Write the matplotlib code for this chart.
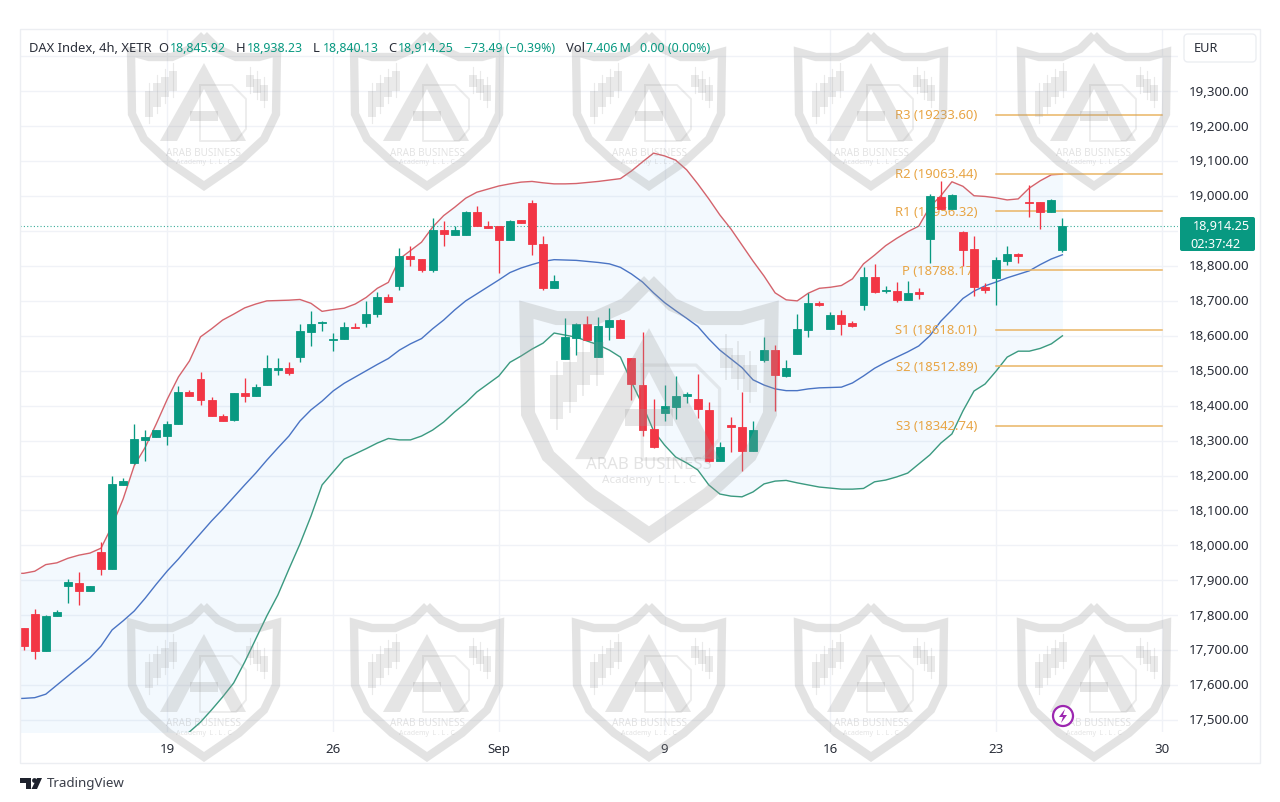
import numpy as np
import matplotlib
matplotlib.use("Agg")
import matplotlib.pyplot as plt
from matplotlib.patches import Polygon, Rectangle, FancyBboxPatch, Circle
from matplotlib.transforms import ScaledTranslation

plt.rcParams['font.family'] = ['Noto Sans', 'DejaVu Sans']

#4h candles
opens = [17763,17804,17698,17797,17883,17893,17868,17980,17932,18173,
         18236,18302,18309,18312,18347,18440,18476,18417,18371,18358,
         18436,18429,18459,18503,18507,18538,18610,18637,18589,18590,
         18624,18636,18662,18712,18743,18829,18821,18789,18902,18890,
         18890,18955,18914,18914,18874,18931,18981,18863,18738,18534,
         18595,18633,18538,18625,18645,18537,18460,18332,18380,18397,
         18427,18420,18388,18242,18345,18340,18271,18532,18560,18486,
         18547,18618,18694,18620,18660,18636,18687,18768,18728,18728,
         18702,18725,18877,18997,18964,18896,18848,18739,18766,18815,
         18834,18984,18984,18954,18845.92]
highs = [17763,17818,17802,17816,17904,17923,17885,18010,18200,18192,
         18348,18331,18331,18357,18455,18446,18495,18424,18376,18436,
         18478,18462,18545,18536,18524,18634,18670,18642,18608,18640,
         18636,18700,18725,18719,18851,18858,18821,18937,18928,18914,
         18957,18971,18930,18914,18931,18931,18990,18885,18774,18650,
         18637,18656,18653,18679,18648,18537,18610,18419,18460,18486,
         18440,18491,18410,18297,18368,18438,18355,18596,18575,18530,
         18662,18723,18700,18667,18674,18643,18798,18806,18742,18753,
         18758,18736,19006,19044,19006,18899,18887,18750,18826,18858,
         18836,19032,18984,18992,18938.23]
lows = [17700,17675,17698,17797,17835,17830,17868,17915,17932,18173,
        18233,18242,18309,18287,18347,18429,18403,18371,18355,18357,
        18410,18429,18459,18488,18489,18524,18572,18615,18556,18590,
        18622,18626,18654,18697,18732,18801,18784,18782,18858,18890,
        18890,18914,18908,18780,18874,18923,18831,18732,18738,18534,
        18545,18588,18538,18587,18595,18417,18314,18280,18355,18362,
        18408,18364,18240,18242,18266,18212,18271,18526,18386,18482,
        18547,18598,18684,18620,18603,18624,18675,18723,18723,18698,
        18702,18705,18808,18964,18964,18801,18713,18723,18688,18803,
        18808,18941,18906,18954,18840.13]
closes = [17713,17698,17799,17808,17894,17868,17883,17932,18176,18184,
          18305,18311,18331,18347,18440,18429,18417,18371,18355,18435,
          18427,18453,18507,18507,18493,18614,18635,18640,18591,18624,
          18622,18662,18712,18697,18829,18821,18789,18902,18891,18904,
          18955,18915,18909,18874,18930,18923,18863,18738,18758,18598,
          18633,18588,18627,18645,18595,18461,18330,18282,18398,18428,
          18433,18390,18242,18281,18339,18271,18330,18560,18487,18509,
          18620,18694,18689,18660,18633,18629,18768,18725,18732,18702,
          18722,18721,18999,18964,19002,18846,18739,18731,18817,18834,
          18828,18981,18954,18989,18914.25]

#bollinger bands, first value sits just left of the first candle
bb_upper = [17920,17920,17926,17945,17950,17963,17972,17978,17992,18056,18133,
            18228,18281,18348,18419,18482,18528,18597,18620,18645,18662,
            18680,18691,18700,18701,18702,18704,18693,18670,18675,18679,
            18691,18710,18736,18753,18820,18844,18868,18911,18944,18968,
            18994,19011,19020,19029,19035,19040,19042,19038,19035,19035,
            19036,19039,19042,19046,19050,19072,19098,19123,19115,19103,
            19075,19035,18992,18946,18906,18860,18814,18771,18723,18703,
            18700,18722,18736,18739,18744,18763,18806,18831,18858,18879,
            18898,18914,18969,19001,19041,19028,19001,18999,18995,18989,
            18992,19023,19044,19061,19063]
bb_mid = [17561,17562,17564,17574,17600,17626,17652,17678,17712,17758,17784,
          17812,17849,17889,17927,17961,17998,18034,18070,18103,18138,
          18173,18207,18244,18279,18313,18356,18388,18413,18442,18464,
          18482,18500,18518,18535,18559,18577,18592,18620,18645,18674,
          18700,18720,18740,18760,18781,18794,18804,18813,18818,18817,
          18816,18813,18810,18806,18796,18777,18754,18723,18695,18672,
          18650,18627,18591,18559,18534,18509,18474,18459,18448,18443,
          18443,18448,18451,18452,18453,18465,18485,18507,18524,18539,
          18554,18571,18600,18642,18674,18707,18728,18743,18754,18766,
          18776,18786,18804,18820,18832]
bb_lower = [17202,17204,17203,17204,17251,17289,17331,17377,17431,17462,17434,
            17396,17418,17431,17435,17440,17466,17494,17529,17566,17606,
            17666,17732,17798,17858,17932,18004,18084,18173,18210,18247,
            18262,18277,18293,18306,18302,18302,18313,18330,18353,18382,
            18408,18439,18462,18485,18524,18542,18562,18579,18608,18602,
            18596,18585,18574,18559,18539,18468,18402,18328,18287,18253,
            18236,18216,18173,18147,18141,18139,18153,18176,18184,18186,
            18179,18173,18167,18164,18161,18161,18163,18182,18187,18196,
            18207,18233,18259,18293,18319,18385,18442,18462,18499,18539,
            18556,18556,18564,18577,18600]

pivot_names = ["R3", "R2", "R1", "P", "S1", "S2", "S3"]
pivot_values = [19233.60, 19063.44, 18956.32, 18788.17, 18618.01, 18512.89, 18342.74]
last_price = 18914.25

price_ticks = list(range(17500, 19500, 100))
hidden_ticks = [18900, 19400]  #covered by the price badge and the EUR box
day_ticks = [13, 28, 43, 58, 73, 88, 103]
day_labels = ["19", "26", "Sep", "9", "16", "23", "30"]

GREEN = "#089981"
RED = "#f23645"
GRID = "#f0f2f7"
TEXT = "#2a2e39"
ORANGE = "#e8a545"
WM = "#9a9a9a"

W, H = 1280, 803
fig = plt.figure(figsize=(W/100, H/100), dpi=100, facecolor="white")

#chart pane, pixel box 20..1178 / 30..733
ax = fig.add_axes([20/W, 1-733/H, (1178-20)/W, (733-30)/H])
ax.set_xlim(-0.335, 104.46)
ax.set_ylim(17465.7, 19478.4)
for s in ax.spines.values():
    s.set_visible(False)

ax.set_yticks(price_ticks)
ax.set_yticklabels(["" if p in hidden_ticks else f"{p:,.2f}" for p in price_ticks], fontsize=9.6, color=TEXT)
ax.yaxis.tick_right()
ax.tick_params(axis="y", length=0, pad=7.5)
#labels sit a little above their grid lines
for lab in ax.get_yticklabels():
    lab.set_transform(lab.get_transform()+ScaledTranslation(0, 1.7/100, fig.dpi_scale_trans))
ax.set_xticks(day_ticks)
ax.set_xticklabels(day_labels, fontsize=9.6, color=TEXT)
ax.get_xticklabels()[2].set_fontweight("bold")
ax.tick_params(axis="x", length=0, pad=7.5)
ax.grid(True, color=GRID, lw=1)
ax.set_axisbelow(True)

#bands
bb_x = np.arange(-1, 95)
ax.fill_between(bb_x, bb_lower, bb_upper, color="#2196f3", alpha=0.05, lw=0, zorder=1)
ax.plot(bb_x, bb_upper, color="#d4636c", lw=1.0, zorder=2)
ax.plot(bb_x, bb_mid, color="#4a74c4", lw=1.0, zorder=2)
ax.plot(bb_x, bb_lower, color="#3b9a80", lw=1.0, zorder=2)

#pivots
for name, val in zip(pivot_names, pivot_values):
    ax.plot([88, 103], [val, val], color="#eab565", lw=1.1, zorder=2)
    ax.text(86.3, val, f"{name} ({val:.2f})", color=ORANGE, fontsize=9.4, ha="right", va="center", zorder=2)

#last price line
ax.axhline(last_price, color=GREEN, lw=0.8, ls=(0, (1, 2)), alpha=0.8, zorder=2)

#candles
for i in range(len(opens)):
    col = GREEN if closes[i] >= opens[i] else RED
    ax.vlines(i, lows[i], highs[i], color=col, lw=0.95, zorder=3)
    ax.bar(i, abs(closes[i]-opens[i]), bottom=min(opens[i], closes[i]), width=0.72,
           color=col, edgecolor=col, lw=0.6, zorder=4)

#pixel overlay for watermark and chrome
ov = fig.add_axes([0, 0, 1, 1], facecolor="none")
ov.set_xlim(0, W)
ov.set_ylim(H, 0)
ov.axis("off")

ov.add_patch(Rectangle((20, 30), 1240, 734, fill=False, ec="#eceef2", lw=1))


def draw_logo(cx, top, s, v1=123, v2=133):
    #s=1 is the small shield, 155 px wide and 165 px high
    half = [(0, 6), (-14, 20), (-32, 28), (-55, 28), (-73, 23), (-72, 85), (-60, 110),
            (-35, 133), (0, 157)]
    right = [(-u, v) for u, v in half[::-1]][1:]
    pts = [(cx+u*s, top+v*s) for u, v in half+right]
    ov.plot([p[0] for p in pts], [p[1] for p in pts], lw=6.0*s, solid_joinstyle="miter",
            solid_capstyle="butt", zorder=10, color=WM, alpha=0.27)
    #letter A
    a = [(0, 34), (42, 112), (27, 112), (0, 60), (-27, 112), (-44, 112)]
    ov.add_patch(Polygon([(cx+u*s, top+v*s) for u, v in a], lw=0, zorder=10, color=WM, alpha=0.25))
    ov.add_patch(Polygon([(cx+u*s, top+v*s) for u, v in [(-14, 82), (14, 82), (14, 92), (-14, 92)]],
                         lw=0, zorder=10, color=WM, alpha=0.25))
    #letter B outline
    b = [(-4, 56), (28, 56), (42, 70), (42, 100), (32, 112), (-4, 112), (-4, 56)]
    ov.plot([cx+u*s for u, v in b], [top+v*s for u, v in b], lw=1.4*s, zorder=10, color=WM, alpha=0.18)
    #small candle shapes on both sides of the A
    for u, b0, b1 in [(-55, 62, 88), (-47, 54, 78), (-39, 48, 68), (-31, 42, 62), (46, 46, 58), (53, 50, 64), (60, 56, 72)]:
        ov.add_patch(Rectangle((cx+(u-4)*s, top+b0*s), 8*s, (b1-b0)*s, lw=0, zorder=10, color=WM, alpha=0.2))
        ov.plot([cx+u*s, cx+u*s], [top+(b0-8)*s, top+(b1+6)*s], lw=0.8*s, zorder=10, color=WM, alpha=0.2)
    ov.text(cx, top+v1*s, "ARAB BUSINESS", fontsize=7.2*s, fontweight="bold", ha="center", va="center",
            zorder=10, color=WM, alpha=0.27)
    ov.text(cx, top+v2*s, "Academy  L . L . C", fontsize=5*s, ha="center", va="center",
            zorder=10, color=WM, alpha=0.27)


for cx in [204, 427, 649, 871, 1094]:
    draw_logo(cx, 30, 1)
    draw_logo(cx, 601, 1)
draw_logo(649, 272, 1.68, 115, 124)

#header line
head = [(29, "DAX Index, 4h, XETR", TEXT), (158, "O", TEXT), (170, "18,845.92", GREEN),
        (236, "H", TEXT), (247, "18,938.23", GREEN), (313, "L", TEXT), (323, "18,840.13", GREEN),
        (388, "C", TEXT), (398, "18,914.25", GREEN), (464, "\u221273.49 (\u22120.39%)", GREEN),
        (566, "Vol", TEXT), (586, "7.406\u2009M", GREEN), (640, "0.00 (0.00%)", GREEN)]
for x, txt, col in head:
    size = 9.35 if col == TEXT else 8.9
    ov.text(x, 48, txt, fontsize=size, color=col, ha="left", va="center", zorder=12)

#EUR box
ov.add_patch(FancyBboxPatch((1187, 38), 66, 22, boxstyle="round,pad=3,rounding_size=4",
                            fc="white", ec="#eceef2", lw=1, zorder=12))
ov.text(1194, 49, "EUR", fontsize=9.2, color=TEXT, ha="left", va="center", zorder=13)

#last price badge
ov.add_patch(FancyBboxPatch((1182, 220), 71, 30, boxstyle="round,pad=2,rounding_size=2",
                            fc=GREEN, ec=GREEN, lw=0, zorder=12))
ov.text(1250, 226, f"{last_price:,.2f}", fontsize=9.1, color="white", fontweight="bold", ha="right", va="center", zorder=13)
ov.text(1190, 244, "02:37:42", fontsize=9.1, color="white", ha="left", va="center", zorder=13)

#lightning mark
ov.add_patch(Circle((1063, 717), 10, fc="white", ec="#9c27b0", lw=1.6, zorder=12))
ov.add_patch(Polygon([(1065, 710), (1059, 718), (1063, 718), (1061, 724), (1067, 716), (1063, 716)],
                     fc="#9c27b0", lw=0, zorder=13))

#tradingview mark
ov.add_patch(Polygon([(20, 779), (31, 779), (31, 790), (26, 790), (26, 784), (20, 784)], fc="#1e222d", lw=0))
ov.add_patch(Circle((34.5, 781.5), 2.4, fc="#1e222d", lw=0))
ov.add_patch(Polygon([(37, 779), (42, 779), (37, 790), (31.5, 790)], fc="#1e222d", lw=0))
ov.text(47, 784, "TradingView", fontsize=9.6, color="#3a3e49", ha="left", va="center")

fig.savefig("out.png", dpi=100)
